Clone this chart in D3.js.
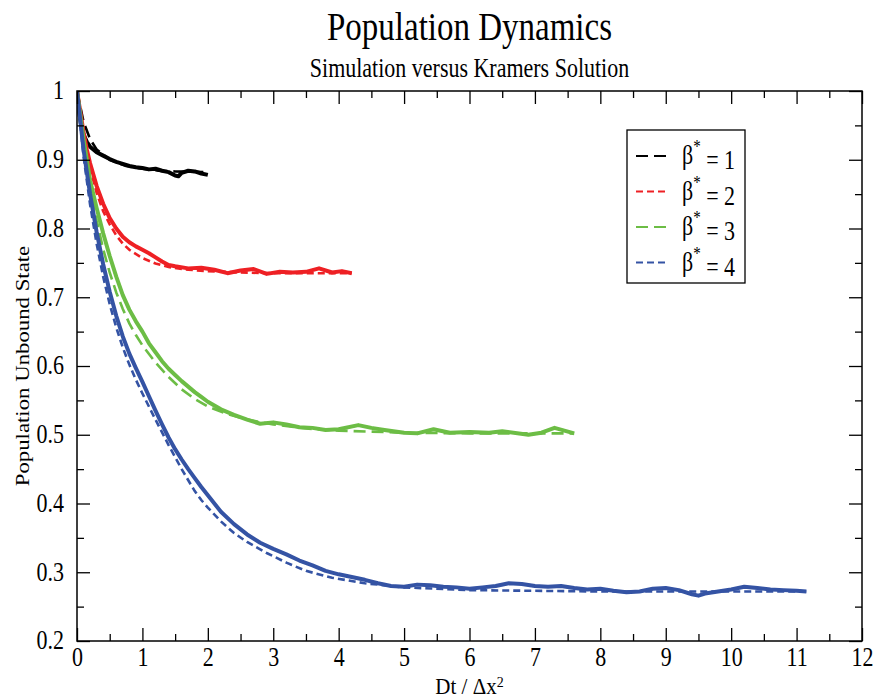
<!DOCTYPE html>
<html><head><meta charset="utf-8">
<script src="https://cdn.jsdelivr.net/npm/d3@7"></script>
<style>
body{margin:0;background:#fff}
svg{display:block}
text, tspan{font-family:"Liberation Serif","Times New Roman",serif !important;fill:#000}
</style></head>
<body><svg id="c" width="875" height="700"></svg>
<script>
// ---------- data ----------
const xMajor = [0,1,2,3,4,5,6,7,8,9,10,11,12];
const xMinor = [0.5,1.5,2.5,3.5,4.5,5.5,6.5,7.5,8.5,9.5,10.5,11.5];
const yMajor = [0.2,0.3,0.4,0.5,0.6,0.7,0.8,0.9,1.0];
const yMinor = [0.25,0.35,0.45,0.55,0.65,0.75,0.85,0.95];
const yLabels = ["0.2","0.3","0.4","0.5","0.6","0.7","0.8","0.9","1"];
const seriesNames = ["1","2","3","4"];
const colors = ["#000000","#ee2024","#6cbd45","#3453a4"];

// simulation (solid, noisy)
const sim1 = [[0,1],[0.03,0.972],[0.06,0.952],[0.1,0.937],[0.15,0.926],[0.2,0.919],[0.3,0.911],[0.4,0.906],[0.5,0.901],[0.6,0.897],[0.7,0.894],[0.8,0.891],[0.9,0.889],[1.0,0.888],[1.1,0.886],[1.2,0.887],[1.3,0.884],[1.4,0.882],[1.5,0.877],[1.55,0.876],[1.6,0.881],[1.7,0.884],[1.8,0.883],[1.9,0.88],[2.0,0.878]];
const sim2 = [[0,1],[0.05,0.97],[0.1,0.94],[0.15,0.915],[0.2,0.895],[0.3,0.862],[0.4,0.836],[0.5,0.815],[0.6,0.8],[0.7,0.788],[0.8,0.78],[0.9,0.774],[1.0,0.769],[1.1,0.764],[1.2,0.758],[1.3,0.752],[1.4,0.747],[1.5,0.745],[1.7,0.742],[1.9,0.743],[2.1,0.74],[2.3,0.735],[2.5,0.739],[2.7,0.741],[2.9,0.734],[3.1,0.737],[3.3,0.736],[3.5,0.737],[3.7,0.742],[3.9,0.736],[4.05,0.738],[4.2,0.735]];
const sim3 = [[0,1],[0.1,0.93],[0.2,0.87],[0.3,0.83],[0.4,0.793],[0.5,0.76],[0.6,0.73],[0.7,0.703],[0.8,0.682],[0.9,0.665],[1.0,0.65],[1.1,0.633],[1.2,0.62],[1.3,0.607],[1.4,0.596],[1.5,0.587],[1.6,0.578],[1.7,0.57],[1.8,0.562],[1.9,0.555],[2.0,0.548],[2.2,0.537],[2.4,0.529],[2.6,0.522],[2.8,0.516],[3.0,0.518],[3.2,0.515],[3.4,0.511],[3.6,0.51],[3.8,0.507],[4.0,0.508],[4.3,0.514],[4.5,0.51],[4.7,0.507],[5.0,0.503],[5.2,0.502],[5.45,0.508],[5.7,0.503],[6.0,0.504],[6.3,0.503],[6.5,0.505],[6.9,0.5],[7.1,0.503],[7.3,0.51],[7.45,0.506],[7.6,0.502]];
const sim4 = [[0,1],[0.1,0.915],[0.2,0.85],[0.3,0.795],[0.4,0.748],[0.5,0.708],[0.6,0.673],[0.7,0.643],[0.8,0.618],[0.9,0.597],[1.0,0.577],[1.1,0.556],[1.2,0.535],[1.3,0.515],[1.4,0.496],[1.5,0.479],[1.6,0.464],[1.7,0.45],[1.8,0.437],[1.9,0.424],[2.0,0.412],[2.2,0.388],[2.4,0.37],[2.6,0.355],[2.8,0.343],[3.0,0.334],[3.2,0.326],[3.4,0.317],[3.6,0.31],[3.8,0.302],[4.0,0.297],[4.2,0.293],[4.4,0.289],[4.6,0.284],[4.8,0.28],[5.0,0.279],[5.2,0.282],[5.4,0.281],[5.6,0.279],[5.8,0.278],[6.0,0.276],[6.2,0.278],[6.4,0.28],[6.6,0.284],[6.8,0.283],[7.0,0.28],[7.2,0.279],[7.4,0.28],[7.6,0.277],[7.8,0.275],[8.0,0.276],[8.2,0.273],[8.4,0.271],[8.6,0.272],[8.8,0.276],[9.0,0.277],[9.2,0.274],[9.4,0.268],[9.5,0.266],[9.6,0.269],[9.8,0.272],[10.0,0.275],[10.2,0.279],[10.4,0.277],[10.6,0.275],[10.8,0.274],[11.0,0.273],[11.15,0.272]];

// Kramers solution (dashed)
const kr1 = [[0,1],[0.1,0.955],[0.2,0.93],[0.3,0.915],[0.5,0.9],[0.75,0.891],[1.0,0.887],[1.25,0.884],[1.5,0.883],[2.0,0.882]];
const kr2 = [[0,1],[0.1,0.935],[0.2,0.888],[0.3,0.852],[0.4,0.825],[0.5,0.806],[0.6,0.79],[0.7,0.778],[0.8,0.769],[1.0,0.757],[1.2,0.749],[1.4,0.744],[1.7,0.74],[2.0,0.738],[2.5,0.736],[3.0,0.735],[4.2,0.735]];
const kr3 = [[0,1],[0.1,0.925],[0.2,0.862],[0.3,0.812],[0.4,0.77],[0.5,0.736],[0.6,0.707],[0.7,0.683],[0.8,0.662],[0.9,0.645],[1.0,0.63],[1.2,0.605],[1.4,0.584],[1.6,0.566],[1.8,0.552],[2.0,0.541],[2.3,0.53],[2.6,0.522],[3.0,0.515],[3.5,0.509],[4.0,0.506],[5.0,0.503],[6.0,0.502],[7.6,0.502]];
const kr4 = [[0,1],[0.1,0.905],[0.2,0.835],[0.3,0.778],[0.4,0.73],[0.5,0.69],[0.6,0.656],[0.7,0.627],[0.8,0.602],[0.9,0.58],[1.0,0.56],[1.2,0.522],[1.4,0.485],[1.6,0.45],[1.8,0.418],[1.9,0.405],[2.0,0.394],[2.2,0.374],[2.4,0.357],[2.6,0.344],[2.9,0.328],[3.2,0.314],[3.5,0.302],[3.9,0.292],[4.4,0.284],[5.0,0.278],[6.0,0.274],[7.0,0.273],[8.0,0.272],[11.15,0.272]];

const sims = [sim1,sim2,sim3,sim4];
const krs = [kr1,kr2,kr3,kr4];
const dashes = ["12,6","7,4","12,6","7,4"];

// ---------- chart ----------
const FONT = '"Liberation Serif","Times New Roman",serif';
const svg = d3.select("#c");
const L=77, R=862, T=91, B=641;
const x = d3.scaleLinear().domain([0,12]).range([L,R]);
const y = d3.scaleLinear().domain([0.2,1]).range([B,T]);
const SY = 1.2; // vertical stretch of the original typography

// titles
svg.append("text").attr("transform",`translate(${(L+R)/2},40) scale(1,${SY})`)
  .attr("text-anchor","middle").attr("font-size",33).text("Population Dynamics");
svg.append("text").attr("transform",`translate(${(L+R)/2},77) scale(1,${SY})`)
  .attr("text-anchor","middle").attr("font-size",22).text("Simulation versus Kramers Solution");

// clip
svg.append("clipPath").attr("id","pc").append("rect").attr("x",L).attr("y",T).attr("width",R-L).attr("height",B-T);

const line = d3.line().x(d=>x(d[0])).y(d=>y(d[1]));
const plot = svg.append("g").attr("clip-path","url(#pc)");
krs.forEach((s,i)=>{
  plot.append("path").datum(s).attr("d",line).attr("fill","none")
    .attr("stroke",colors[i]).attr("stroke-width",2.6).attr("stroke-dasharray",dashes[i]);
});
sims.forEach((s,i)=>{
  plot.append("path").datum(s).attr("d",line).attr("fill","none")
    .attr("stroke",colors[i]).attr("stroke-width",4).attr("stroke-linejoin","round");
});

// axes
function axisStyle(g){
  g.attr("font-family",FONT).attr("font-size",22);
  g.select(".domain").remove();
  g.selectAll(".tick line").attr("stroke","#000").attr("stroke-width",1.3);
}
svg.append("g").attr("transform",`translate(0,${B})`)
  .call(d3.axisBottom(x).tickValues(xMajor).tickSize(-13).tickPadding(0).tickFormat(d3.format("d")))
  .call(axisStyle)
  .call(g=>g.selectAll(".tick text").attr("font-size",22)
     .attr("y",5).attr("dy","0.71em").attr("transform","scale(1,"+SY+")"));
svg.append("g").attr("transform",`translate(0,${B})`)
  .call(d3.axisBottom(x).tickValues(xMinor).tickSize(-7).tickFormat("")).call(axisStyle);
svg.append("g").attr("transform",`translate(0,${T})`)
  .call(d3.axisTop(x).tickValues(xMajor).tickSize(-13).tickFormat("")).call(axisStyle);
svg.append("g").attr("transform",`translate(0,${T})`)
  .call(d3.axisTop(x).tickValues(xMinor).tickSize(-7).tickFormat("")).call(axisStyle);
svg.append("g").attr("transform",`translate(${L},0)`)
  .call(d3.axisLeft(y).tickValues(yMajor).tickSize(-13).tickPadding(6).tickFormat((d,i)=>yLabels[i]))
  .call(axisStyle)
  .call(g=>g.selectAll(".tick text").attr("font-size",22)
     .attr("x",-13).attr("dy","0.3em").attr("y",0).attr("transform","scale(1,"+SY+")"));
svg.append("g").attr("transform",`translate(${L},0)`)
  .call(d3.axisLeft(y).tickValues(yMinor).tickSize(-7).tickFormat("")).call(axisStyle);
svg.append("g").attr("transform",`translate(${R},0)`)
  .call(d3.axisRight(y).tickValues(yMajor).tickSize(-13).tickFormat("")).call(axisStyle);
svg.append("g").attr("transform",`translate(${R},0)`)
  .call(d3.axisRight(y).tickValues(yMinor).tickSize(-7).tickFormat("")).call(axisStyle);

// frame
svg.append("rect").attr("x",L).attr("y",T).attr("width",R-L).attr("height",B-T)
  .attr("fill","none").attr("stroke","#000").attr("stroke-width",1.5);

// axis titles
const xt = svg.append("text").attr("transform",`translate(${(L+R)/2},694) scale(1,1.1)`)
  .attr("text-anchor","middle").attr("font-size",21);
xt.append("tspan").text("Dt / \u0394x");
xt.append("tspan").attr("dy","-0.45em").attr("font-size",14).text("2");
svg.append("text").attr("transform",`translate(29,${(T+B)/2}) rotate(-90) scale(${SY},1)`)
  .attr("text-anchor","middle").attr("font-size",19).text("Population Unbound State");

// legend
const lg = svg.append("g");
lg.append("rect").attr("x",627).attr("y",130).attr("width",118).attr("height",153)
  .attr("fill","#fff").attr("stroke","#000").attr("stroke-width",1.3);
seriesNames.forEach((n,i)=>{
  const ly = 156 + i*35.5;
  lg.append("line").attr("x1",636).attr("x2",667).attr("y1",ly).attr("y2",ly)
    .attr("stroke",colors[i]).attr("stroke-width",2).attr("stroke-dasharray",dashes[i]);
  const t = lg.append("text").attr("transform",`translate(682,${ly+8}) scale(1,${SY})`)
    .attr("font-size",22);
  t.append("tspan").text("\u03B2");
  t.append("tspan").attr("dy","-0.6em").attr("font-size",15).text("*");
  t.append("tspan").attr("dy","0.6em").text(" = " + n);
});
</script></body></html>
